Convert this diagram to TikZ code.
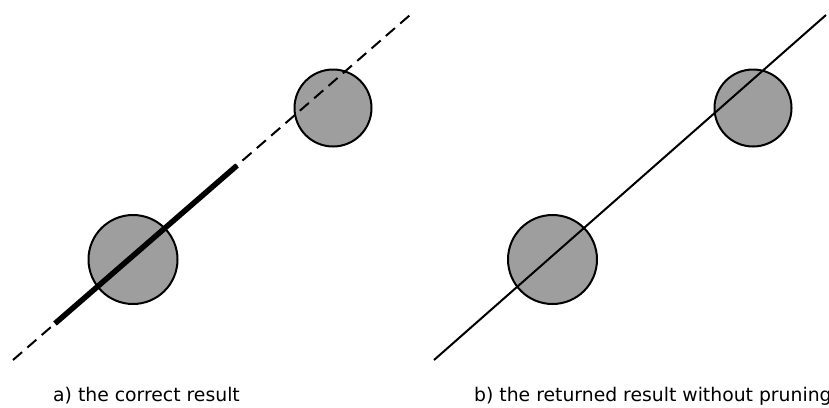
\documentclass[tikz,border=0pt]{standalone}
\usepackage{fontspec}
\setmainfont{DejaVu Sans}
\definecolor{discgray}{RGB}{158,158,158}
\tikzset{
  disc/.style={circle, draw=black, line width=2pt, fill=discgray, inner sep=0pt, minimum size=#1},
  dashline/.style={line width=2pt, dash pattern=on 12pt off 7pt},
  solidline/.style={line width=2pt},
  thickseg/.style={line width=5.5pt},
  caption/.style={anchor=base west, inner sep=0pt, font=\fontsize{18.8}{21}\selectfont}
}
\begin{document}
\begin{tikzpicture}[x=1pt,y=-1pt]
\useasboundingbox (0,0) rectangle (829,407);
% panel a
\coordinate (a1) at (13,360);
\coordinate (a2) at (410,15);
\coordinate (t1) at (55,323.5);
\coordinate (t2) at (237,165.5);
\node[disc=89pt] (abig) at (133,259.5) {};
\node[disc=77pt] (asmall) at (333,108) {};
\draw[dashline] (a1) -- (a2);
\draw[thickseg] (t1) -- (t2);
\node[caption] (capa) at (53,401) {a) the correct result};
% panel b
\coordinate (b1) at (434,360);
\coordinate (b2) at (826,15);
\node[disc=89pt] (bbig) at (552.5,259.5) {};
\node[disc=77pt] (bsmall) at (753,108) {};
\draw[solidline] (b1) -- (b2);
\node[caption] (capb) at (474,401) {b) the returned result without pruning};
\end{tikzpicture}
\end{document}
